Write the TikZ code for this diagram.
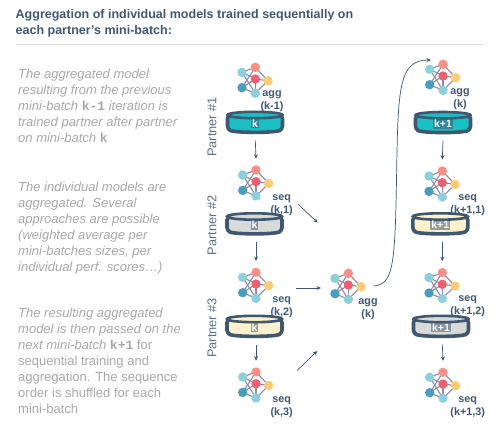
\documentclass[tikz,border=0pt]{standalone}
\usepackage{fontspec}
\setmainfont{Liberation Sans}
\setmonofont{Liberation Mono}
\usetikzlibrary{arrows.meta}
\definecolor{inkdark}{HTML}{3F5870}
\definecolor{inkgrey}{HTML}{A8A8A8}
\definecolor{diskteal}{HTML}{1ABFC4}
\definecolor{diskgrey}{HTML}{D9D9D9}
\definecolor{diskcream}{HTML}{FFF1CC}
\definecolor{netsalmon}{HTML}{FA9085}
\definecolor{netpale}{HTML}{8CCFDD}
\definecolor{netred}{HTML}{EF5F70}
\definecolor{netyellow}{HTML}{FDCB74}
\definecolor{netblue}{HTML}{4A9DBF}
\definecolor{netgrey}{HTML}{8E8AA8}
\tikzset{
	x=1pt, y=-1pt,
	titletext/.style={anchor=north west, align=left, inner sep=0pt, text=inkdark, font=\fontsize{12.5}{16}\selectfont\bfseries},
	sidetext/.style={anchor=north west, align=left, inner sep=0pt, text=inkgrey, font=\fontsize{13}{16}\selectfont},
	partnertext/.style={rotate=90, inner sep=0pt, text=inkdark!85, font=\fontsize{12.8}{14}\selectfont},
	modeltext/.style={align=center, inner sep=0pt, text=inkdark, font=\fontsize{10.8}{12.6}\selectfont\bfseries},
	disktext/.style={inner sep=1pt, fill=inkdark, fill opacity=0.55, text opacity=1, text=white, font=\fontsize{10.5}{10}\selectfont\bfseries},
	modelbox/.style={minimum width=54pt, minimum height=46pt, inner sep=0pt, outer sep=0pt},
	diskbox/.style={minimum width=58pt, minimum height=36pt, inner sep=0pt, outer sep=0pt},
	netline/.style={line width=1.1pt, color=netgrey},
	flowarrow/.style={line width=0.7pt, color=inkdark, -{Stealth[length=4.5pt,width=4pt]}},
	netdot/.style={circle, minimum size=9.4pt, inner sep=0pt, fill=#1},
}
\newcommand{\netmodel}[2]{
	\node[modelbox] (#1) at (#2) {};
	\begin{scope}[shift={(#2)}]
		\coordinate (#1-t) at (0, -11.7);
		\coordinate (#1-l) at (-13.3, -6.7);
		\coordinate (#1-c) at (0, 0);
		\coordinate (#1-r) at (12.7, 1.7);
		\coordinate (#1-d) at (-13.3, 8.7);
		\coordinate (#1-b) at (0, 14.3);
		\foreach \a/\b in {t/l,t/r,t/d,l/c,l/b,d/c,d/b,c/r,c/b,b/r}
			\draw[netline] (#1-\a) -- (#1-\b);
		\node[netdot=netsalmon] at (#1-t) {};
		\node[netdot=netpale] at (#1-l) {};
		\node[netdot=netred] at (#1-c) {};
		\node[netdot=netyellow] at (#1-r) {};
		\node[netdot=netblue] at (#1-d) {};
		\node[netdot=netpale] at (#1-b) {};
	\end{scope}
}
\newcommand{\datadisk}[4]{
	\node[diskbox] (#1) at (#2) {};
	\begin{scope}[shift={(#2)}]
		\draw[line width=3.6pt, color=inkdark, fill=#3, rounded corners=3pt] (-27.5, -7) -- (-27.5, 6.5) .. controls (-20, 10.5) and (20, 10.5) .. (27.5, 6.5) -- (27.5, -7) -- cycle;
		\draw[line width=2.6pt, color=inkdark, fill=#3] (0, -7.5) ellipse (27.5 and 3.2);
		\node[disktext] (#1-label) at (0, 1) {#4};
	\end{scope}
}

\begin{document}
\begin{tikzpicture}
	%%%%% CANVAS %%%%%
	\useasboundingbox (0, 0) rectangle (503, 433);

	\node[titletext] (heading) at (15.5, 9.5) {Aggregation of individual models trained sequentially on\\each partner's mini-batch:};
	\coordinate (ruleleft) at (15.5, 44);
	\coordinate (ruleright) at (483, 44);
	\draw[line width=0.7pt, color=black!15] (ruleleft) -- (ruleright);

	%%%%% SIDE TEXT %%%%%
	\node[sidetext] (stepa) at (18, 69) {\itshape The aggregated model\\\itshape resulting from the previous\\\itshape mini-batch {\upshape\ttfamily\bfseries k-1} iteration is\\\itshape trained partner after partner\\\itshape on mini-batch {\upshape\ttfamily\bfseries k}};
	\node[sidetext] (stepb) at (18, 181.5) {\itshape The individual models are\\\itshape aggregated. Several\\\itshape approaches are possible\\\itshape (weighted average per\\\itshape mini-batches sizes, per\\\itshape individual perf. scores…)};
	\node[sidetext] (stepc) at (18, 307.5) {\itshape The resulting aggregated\\\itshape model is then passed on the\\{\itshape next mini-batch} {\ttfamily\bfseries k+1} for\\sequential training and\\aggregation. The sequence\\order is shuffled for each\\mini-batch};

	%%%%% PARTNERS %%%%%
	\node[partnertext] (partnera) at (212, 127) {Partner \#1};
	\node[partnertext] (partnerb) at (212, 225.5) {Partner \#2};
	\node[partnertext] (partnerc) at (212, 328) {Partner \#3};

	%%%%% FIRST COLUMN %%%%%
	\netmodel{aggprev}{255.3, 79}
	\node[modeltext] (aggprevtext) at (272, 101.5) {agg\\(k-1)};
	\datadisk{diska}{255, 122.5}{diskteal}{k}
	\netmodel{seqa}{256, 181.7}
	\node[modeltext] (seqatext) at (281.7, 205) {seq\\(k,1)};
	\datadisk{diskb}{254.5, 224}{diskgrey}{k}
	\netmodel{seqb}{256, 284}
	\node[modeltext] (seqbtext) at (281.7, 307.5) {seq\\(k,2)};
	\datadisk{diskc}{254.5, 326.5}{diskcream}{k}
	\netmodel{seqc}{256, 383.7}
	\node[modeltext] (seqctext) at (281.7, 407) {seq\\(k,3)};

	\draw[flowarrow] (aggprev.north |- diska.south) -- (seqa.north);
	\draw[flowarrow] (seqa.north |- diskb.south) -- (seqb.north);
	\draw[flowarrow] (seqb.north |- diskc.south) -- (seqc.north);

	%%%%% AGGREGATION %%%%%
	\netmodel{aggk}{348.3, 285}
	\node[modeltext] (aggktext) at (368, 309) {agg\\(k)};

	\coordinate (fromseqa) at (298.3, 204.3);
	\coordinate (toagga) at (317.7, 222.7);
	\coordinate (fromseqb) at (295.7, 288);
	\coordinate (toaggb) at (321, 288);
	\coordinate (fromseqc) at (297.3, 370.3);
	\coordinate (toaggc) at (317.3, 351);
	\draw[flowarrow] (fromseqa) -- (toagga);
	\draw[flowarrow] (fromseqb) -- (toaggb);
	\draw[flowarrow] (fromseqc) -- (toaggc);

	%%%%% SECOND COLUMN %%%%%
	\netmodel{aggnext}{443, 76}
	\node[modeltext] (aggnexttext) at (460, 99) {agg\\(k)};
	\datadisk{diskd}{443, 122.7}{diskteal}{k+1}
	\netmodel{seqd}{442.3, 182.7}
	\node[modeltext] (seqdtext) at (467.7, 205.5) {seq\\(k+1,1)};
	\datadisk{diske}{440.3, 224}{diskcream}{k+1}
	\netmodel{seqe}{442.3, 284.3}
	\node[modeltext] (seqetext) at (467.7, 306.5) {seq\\(k+1,2)};
	\datadisk{diskf}{441, 326.5}{diskgrey}{k+1}
	\netmodel{seqf}{443, 384}
	\node[modeltext] (seqftext) at (467.7, 407) {seq\\(k+1,3)};

	\draw[flowarrow] (aggnext.north |- diskd.south) -- (seqd.north);
	\draw[flowarrow] (seqd.north |- diske.south) -- (seqe.north);
	\draw[flowarrow] (seqe.north |- diskf.south) -- (seqf.north);

	\coordinate (fromaggk) at (373.3, 286);
	\coordinate (toaggnext) at (431, 60);
	\draw[flowarrow] (fromaggk) .. controls (392, 284) and (395, 272) .. (396.5, 180) .. controls (398, 90) and (398, 60) .. (toaggnext);
\end{tikzpicture}
\end{document}
